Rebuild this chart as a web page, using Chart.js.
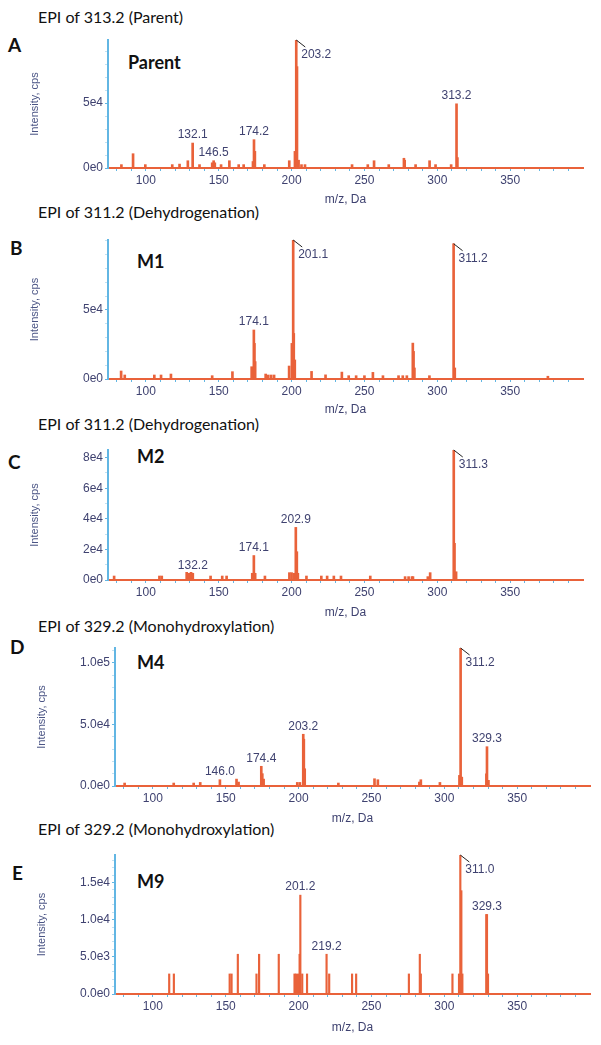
<!DOCTYPE html>
<html>
<head>
<meta charset="utf-8">
<script src="https://cdn.jsdelivr.net/npm/chart.js@4.4.1/dist/chart.umd.min.js"></script>
<style>
body{margin:0;background:#fff;width:601px;height:1045px;position:relative;overflow:hidden;font-family:Lato,"Open Sans",sans-serif;color:#111}
canvas{position:absolute;left:0}
.t{position:absolute;left:38px;font-size:16px;line-height:16px;white-space:nowrap}
.l{position:absolute;font-size:19px;line-height:19px;font-weight:bold}
.m{position:absolute;font-size:18px;line-height:18px;font-weight:bold}
</style>
</head>
<body>
<div class="t" style="top:9px">EPI of 313.2 (Parent)</div>
<div class="t" style="top:204px">EPI of 311.2 (Dehydrogenation)</div>
<div class="t" style="top:416px">EPI of 311.2 (Dehydrogenation)</div>
<div class="t" style="top:618px">EPI of 329.2 (Monohydroxylation)</div>
<div class="t" style="top:821px">EPI of 329.2 (Monohydroxylation)</div>
<div class="l" style="left:8px;top:35px">A</div>
<div class="l" style="left:10px;top:238px">B</div>
<div class="l" style="left:8px;top:452px">C</div>
<div class="l" style="left:10px;top:637px">D</div>
<div class="l" style="left:12px;top:863px">E</div>
<div class="m" style="left:128px;top:53px">Parent</div>
<div class="m" style="left:137px;top:252px">M1</div>
<div class="m" style="left:137px;top:447px">M2</div>
<div class="m" style="left:137px;top:653px">M4</div>
<div class="m" style="left:137px;top:872px">M9</div>

<canvas id="cA" width="601" height="179" style="top:30px"></canvas>
<canvas id="cB" width="601" height="189" style="top:230px"></canvas>
<canvas id="cC" width="601" height="182" style="top:440px"></canvas>
<canvas id="cD" width="601" height="190" style="top:638px"></canvas>
<canvas id="cE" width="601" height="192" style="top:845px"></canvas>

<script>
// m/z axis
var xMajor = [100, 150, 200, 250, 300, 350];
var xTicks = [80, 90, 100, 110, 120, 130, 140, 150, 160, 170, 180, 190, 200, 210, 220, 230, 240, 250,
              260, 270, 280, 290, 300, 310, 320, 330, 340, 350, 360, 370, 380, 390];

// A - Parent
var mzA  = [83.2, 91.2, 99.6, 118.1, 123.1, 128.8, 132.1, 136.8, 145.5, 146.5, 147.3, 151.6, 157.3, 163.7, 167.1,
            173.5, 174.2, 174.8, 181.3, 198.4, 202.3, 203.2, 203.7, 204.8, 206.8, 209.2, 241.5, 252.3, 256.6,
            266.7, 277.1, 277.6, 285.1, 294.7, 298.8, 309.5, 313.2, 313.8];
var intA = [2600, 11000, 2600, 2600, 3000, 5600, 19200, 2600, 4000, 5600, 4000, 2600, 5600, 2600, 2600,
            5000, 21800, 12800, 2600, 5600, 12800, 98500, 78000, 6000, 2600, 2600, 2600, 2600, 5600,
            2600, 7500, 6000, 2600, 5600, 2600, 2600, 49400, 8000];
var yMaxA = 98500;
var yTicksA = [0, 50000];
var yLabelsA = ['0e0', '5e4'];
var yMinorA = [10000, 20000, 30000, 40000, 60000, 70000, 80000, 90000];
var peaksA = ['132.1', '146.5', '174.2', '203.2', '313.2'];
var hooksA = ['203.2'];

// B - M1
var mzB  = [83.0, 85.5, 105.8, 110.4, 117.2, 145.5, 159.4, 172.6, 174.1, 174.5, 175.0, 182.2, 184.0, 186.0, 188.0,
            198.3, 200.2, 201.1, 201.5, 202.2, 213.7, 223.3, 234.5, 239.2, 244.3, 250.0, 255.8, 262.7,
            273.4, 276.3, 279.1, 283.2, 283.7, 284.3, 294.6, 311.2, 312.0, 375.9];
var intB = [5800, 2900, 2900, 2900, 3600, 2400, 5300, 8900, 35500, 25800, 12600, 3600, 2900, 2900, 2900,
            9400, 25800, 100700, 33000, 13800, 5500, 3000, 5000, 2400, 2400, 2400, 4800, 2400,
            2400, 2400, 2400, 26000, 20000, 8000, 2400, 98000, 8000, 2000];
var yMaxB = 100700;
var yTicksB = [0, 50000];
var yLabelsB = ['0e0', '5e4'];
var yMinorB = [10000, 20000, 30000, 40000, 60000, 70000, 80000, 90000, 100000];
var peaksB = ['174.1', '201.1', '311.2'];
var hooksB = ['201.1', '311.2'];

// C - M2
var mzC  = [78.2, 109.3, 110.9, 128.0, 129.6, 131.0, 132.2, 144.4, 152.4, 155.4, 173.0, 174.1, 175.0, 181.7,
            198.5, 200.0, 201.7, 202.9, 203.6, 204.3, 210.2, 220.4, 224.4, 229.0, 233.9, 254.0,
            277.9, 280.3, 282.6, 283.3, 293.5, 295.1, 311.3, 311.8, 312.9];
var intC = [2600, 2600, 2600, 5000, 4400, 5000, 4400, 2600, 2600, 2600, 4400, 16000, 4400, 2600,
            4800, 4800, 4400, 34400, 18500, 4400, 2600, 2600, 2600, 2600, 2600, 2600,
            2200, 2200, 2200, 2200, 2200, 4800, 85000, 24000, 5400];
var yMaxC = 85000;
var yTicksC = [0, 20000, 40000, 60000, 80000];
var yLabelsC = ['0e0', '2e4', '4e4', '6e4', '8e4'];
var yMinorC = [10000, 30000, 50000, 70000];
var peaksC = ['132.2', '174.1', '202.9', '311.3'];
var hooksC = ['311.3'];

// D - M4
var mzD  = [80.6, 114.3, 128.0, 132.5, 146.0, 157.4, 158.8, 174.4, 175.1, 176.0, 199.1, 200.9,
            203.2, 203.6, 204.2, 227.3, 252.1, 254.4, 282.9, 283.9, 297.0, 310.4, 311.2, 312.0,
            328.9, 329.3, 330.3];
var intD = [2400, 2400, 2400, 2900, 5100, 5600, 3200, 16000, 10000, 5600, 2900, 2900,
            42000, 38000, 14000, 2400, 5900, 5100, 3200, 5100, 2900, 8600, 112000, 7200,
            9900, 31900, 4600];
var yMaxD = 112000;
var yTicksD = [0, 50000, 100000];
var yLabelsD = ['0.0e0', '5.0e4', '1.0e5'];
var yMinorD = [10000, 20000, 30000, 40000, 60000, 70000, 80000, 90000, 110000];
var peaksD = ['146.0', '174.4', '203.2', '311.2', '329.3'];
var hooksD = ['311.2'];

// E - M9
var mzE  = [111.2, 114.4, 152.7, 154.0, 158.3, 171.1, 172.9, 186.4, 197.2, 198.2, 199.6, 200.7, 201.2,
            202.5, 205.8, 219.2, 221.0, 236.7, 239.5, 275.7, 283.2, 283.9, 305.6, 310.1, 311.0,
            311.7, 312.4, 328.8, 329.3, 330.0];
var intE = [2700, 2700, 2700, 2700, 5350, 2700, 5350, 5350, 2700, 2700, 2700, 5350, 13300,
            2700, 2700, 5350, 2700, 2700, 2700, 2700, 5350, 2700, 2700, 2700, 18700,
            13900, 2700, 10700, 10700, 2700];
var yMaxE = 18700;
var yTicksE = [0, 5000, 10000, 15000];
var yLabelsE = ['0.0e0', '5.0e3', '1.0e4', '1.5e4'];
var yMinorE = [1000, 2000, 3000, 4000, 6000, 7000, 8000, 9000, 11000, 12000, 13000, 14000, 16000, 17000, 18000];
var peaksE = ['201.2', '219.2', '311.0', '329.3'];
var hooksE = ['311.0'];

var barColor = '#e9623a';
var axisBlue = '#62b6e3';
var textColor = '#3f4270';
var sans = '"Liberation Sans", Arial, sans-serif';

var peakLabels = {
  id: 'peakLabels',
  afterDatasetsDraw: function(chart, args, opts) {
    var ctx = chart.ctx, x = chart.scales.x, y = chart.scales.y;
    var pts = chart.data.datasets[0].data;
    ctx.save();
    ctx.font = '12px ' + sans;
    ctx.fillStyle = textColor;
    opts.items.forEach(function(txt) {
      var m = parseFloat(txt), top = 0;
      pts.forEach(function(p) { if (Math.abs(p.x - m) <= 1 && p.y > top) top = p.y; });
      var px = x.getPixelForValue(m), py = y.getPixelForValue(top);
      if (opts.hooks.indexOf(txt) >= 0) {
        ctx.strokeStyle = '#222';
        ctx.lineWidth = 1;
        ctx.beginPath();
        ctx.moveTo(px, py);
        ctx.lineTo(px + 9, py + 7);
        ctx.stroke();
        ctx.textAlign = 'left';
        ctx.textBaseline = 'middle';
        ctx.fillText(txt, px + 5, py + 15);
      } else {
        ctx.textAlign = 'center';
        ctx.textBaseline = 'bottom';
        ctx.fillText(txt, px, py - 2);
      }
    });
    ctx.restore();
  }
};

function spectrum(id, mz, ints, yMax, yTicks, yLabels, yMinor, peaks, hooks, padL, padR, xH, barW) {
  var yAll = yTicks.concat(yMinor).sort(function(a, b) { return a - b; });
  new Chart(document.getElementById(id), {
    type: 'bar',
    data: {
      datasets: [{
        data: mz.map(function(m, i) { return {x: m, y: ints[i]}; }),
        backgroundColor: barColor,
        borderWidth: 0,
        barThickness: barW
      }]
    },
    options: {
      responsive: false,
      animation: false,
      devicePixelRatio: 1,
      layout: {padding: {left: padL, right: padR, top: 10, bottom: 0}},
      plugins: {
        legend: {display: false},
        tooltip: {enabled: false},
        peakLabels: {items: peaks, hooks: hooks}
      },
      scales: {
        x: {
          type: 'linear', min: 74, max: 400, offset: false,
          afterBuildTicks: function(s) { s.ticks = xTicks.map(function(v) { return {value: v}; }); },
          afterFit: function(s) { s.height = xH; },
          ticks: {
            autoSkip: false, maxRotation: 0, padding: 2, color: textColor,
            font: {family: sans, size: 12},
            callback: function(v) { return xMajor.indexOf(v) >= 0 ? String(v) : ''; }
          },
          grid: {drawOnChartArea: false, drawTicks: true, tickLength: 3, tickColor: axisBlue, offset: false},
          border: {color: barColor, width: 2},
          title: {display: true, text: 'm/z, Da', color: textColor, font: {family: sans, size: 12}, padding: {top: 0, bottom: 2}}
        },
        y: {
          min: 0, max: yMax,
          afterBuildTicks: function(s) { s.ticks = yAll.map(function(v) { return {value: v}; }); },
          afterFit: function(s) { s.width = 82; },
          ticks: {
            autoSkip: false, padding: 2, color: textColor,
            font: {family: sans, size: 12},
            callback: function(v) { var i = yTicks.indexOf(v); return i >= 0 ? yLabels[i] : ''; }
          },
          grid: {
            drawOnChartArea: false, drawTicks: true, tickLength: 3,
            tickColor: function(c) { return c.tick && yTicks.indexOf(c.tick.value) >= 0 ? axisBlue : '#c3e1f2'; }
          },
          border: {color: axisBlue, width: 2},
          title: {display: true, text: 'Intensity, cps', color: '#4b5585', font: {family: sans, size: 11}, padding: {top: 2, bottom: 0}}
        }
      }
    },
    plugins: [peakLabels]
  });
}

spectrum('cA', mzA, intA, yMaxA, yTicksA, yLabelsA, yMinorA, peaksA, hooksA, 26, 18, 41, 2);
spectrum('cB', mzB, intB, yMaxB, yTicksB, yLabelsB, yMinorB, peaksB, hooksB, 26, 18, 40, 2);
spectrum('cC', mzC, intC, yMaxC, yTicksC, yLabelsC, yMinorC, peaksC, hooksC, 26, 18, 42, 2);
spectrum('cD', mzD, intD, yMaxD, yTicksD, yLabelsD, yMinorD, peaksD, hooksD, 33, 11, 42, 2);
spectrum('cE', mzE, intE, yMaxE, yTicksE, yLabelsE, yMinorE, peaksE, hooksE, 33, 11, 43, 1.5);
</script>
</body>
</html>
